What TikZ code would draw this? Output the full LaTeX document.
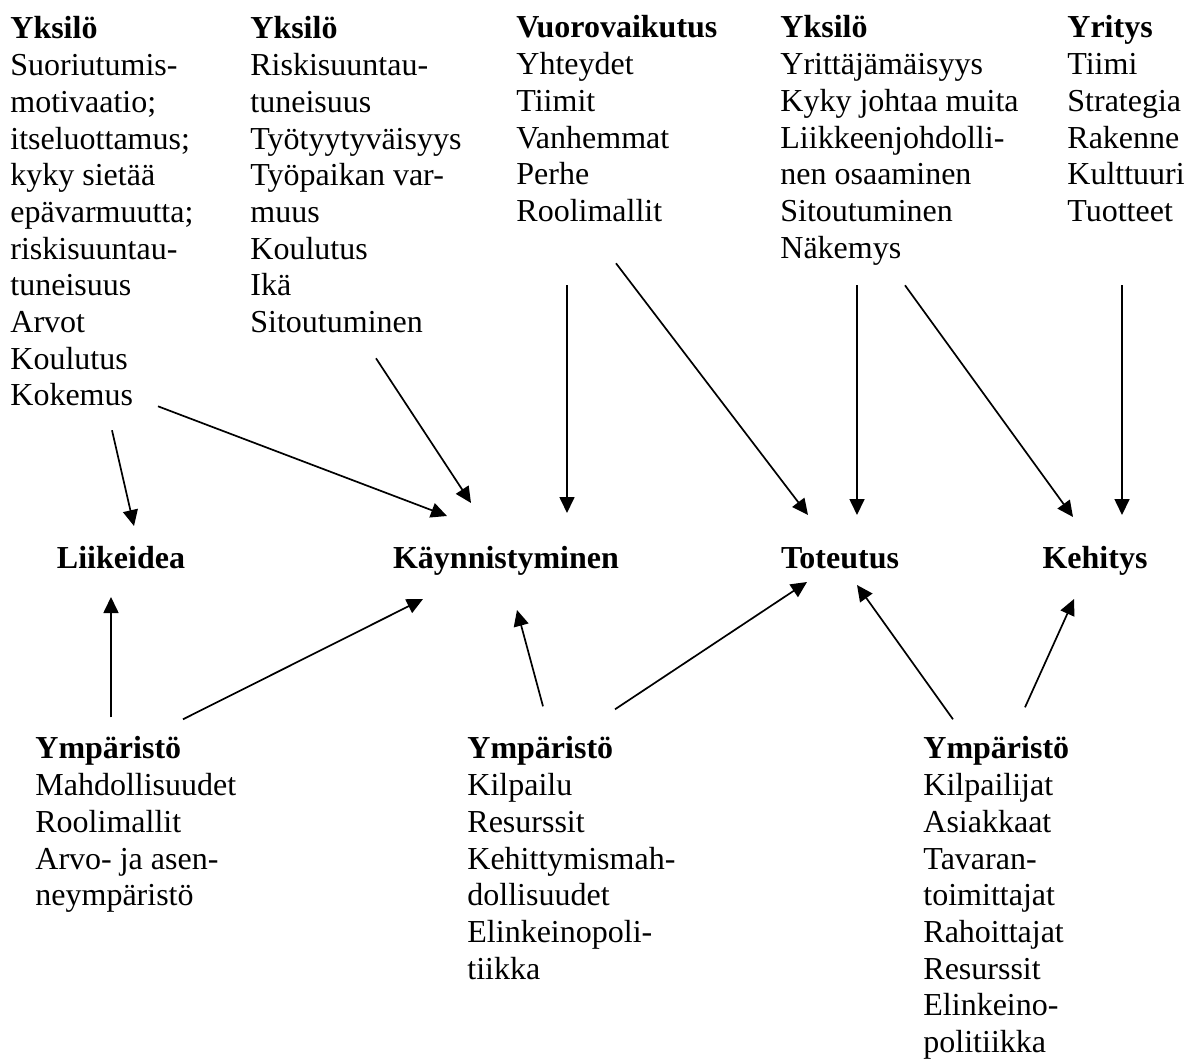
\documentclass[tikz,border=0pt]{standalone}
\usepackage{fontspec}
\setmainfont{Liberation Serif}
\usetikzlibrary{arrows.meta, positioning}

\begin{document}
\begin{tikzpicture}[
        x=0.5pt, y=-0.5pt,
        factorBlock/.style={
            anchor=north west,
            align=left,
            inner sep=0pt,
            font=\fontsize{16pt}{18.35pt}\selectfont
        },
        stageNode/.style={
            anchor=base,
            inner sep=0pt,
            font=\fontsize{16pt}{18.35pt}\selectfont\bfseries
        },
        influenceEdge/.style={
            -{Triangle[length=8pt, width=7.5pt]},
            line width=0.85pt
        }
    ]

        \useasboundingbox (0,0) rectangle (1187,1059);

        % Upper factor groups
        \node[factorBlock] (yksA) at (10,16.3) {
            \textbf{Yksilö}\\
            Suoriutumis-\\
            motivaatio;\\
            itseluottamus;\\
            kyky sietää\\
            epävarmuutta;\\
            riskisuuntau-\\
            tuneisuus\\
            Arvot\\
            Koulutus\\
            Kokemus
        };
        \node[factorBlock] (yksB) at (250,16.3) {
            \textbf{Yksilö}\\
            Riskisuuntau-\\
            tuneisuus\\
            Työtyytyväisyys\\
            Työpaikan var-\\
            muus\\
            Koulutus\\
            Ikä\\
            Sitoutuminen
        };
        \node[factorBlock] (vuoro) at (516,15.3) {
            \textbf{Vuorovaikutus}\\
            Yhteydet\\
            Tiimit\\
            Vanhemmat\\
            Perhe\\
            Roolimallit
        };
        \node[factorBlock] (yksC) at (780,15.3) {
            \textbf{Yksilö}\\
            Yrittäjämäisyys\\
            Kyky johtaa muita\\
            Liikkeenjohdolli-\\
            nen osaaminen\\
            Sitoutuminen\\
            Näkemys
        };
        \node[factorBlock] (yritys) at (1067,15.3) {
            \textbf{Yritys}\\
            Tiimi\\
            Strategia\\
            Rakenne\\
            Kulttuuri\\
            Tuotteet
        };

        % Stages
        \node[stageNode] (liike) at (121,568) {Liikeidea};
        \node[stageNode] (kaynn) at (506,568) {Käynnistyminen};
        \node[stageNode] (toteu) at (840,568) {Toteutus};
        \node[stageNode] (kehit) at (1095,568) {Kehitys};

        % Lower factor groups
        \node[factorBlock] (ympA) at (35,736.3) {
            \textbf{Ympäristö}\\
            Mahdollisuudet\\
            Roolimallit\\
            Arvo- ja asen-\\
            neympäristö
        };
        \node[factorBlock] (ympB) at (467,736.3) {
            \textbf{Ympäristö}\\
            Kilpailu\\
            Resurssit\\
            Kehittymismah-\\
            dollisuudet\\
            Elinkeinopoli-\\
            tiikka
        };
        \node[factorBlock] (ympC) at (923,736.3) {
            \textbf{Ympäristö}\\
            Kilpailijat\\
            Asiakkaat\\
            Tavaran-\\
            toimittajat\\
            Rahoittajat\\
            Resurssit\\
            Elinkeino-\\
            politiikka
        };

        % Influences from above
        \draw[influenceEdge] ([shift={(102,414)}]yksA.north west) -- ([shift={(13,-42)}]liike.base);
        \draw[influenceEdge] ([shift={(148,390)}]yksA.north west) -- ([shift={(-59,-52)}]kaynn.base);
        \draw[influenceEdge] ([shift={(126,342)}]yksB.north west) -- ([shift={(-35,-65)}]kaynn.base);
        \draw[influenceEdge] ([shift={(51,270)}]vuoro.north west) -- ([shift={(61,-55)}]kaynn.base);
        \draw[influenceEdge] ([shift={(100,248)}]vuoro.north west) -- ([shift={(-32,-53)}]toteu.base);
        \draw[influenceEdge] ([shift={(77,270)}]yksC.north west) -- ([shift={(17,-53)}]toteu.base);
        \draw[influenceEdge] ([shift={(125,270)}]yksC.north west) -- ([shift={(-22,-51)}]kehit.base);
        \draw[influenceEdge] ([shift={(55,270)}]yritys.north west) -- ([shift={(27,-53)}]kehit.base);

        % Influences from below
        \draw[influenceEdge] ([shift={(76,-19)}]ympA.north west) -- ([shift={(-10,29)}]liike.base);
        \draw[influenceEdge] ([shift={(148,-17)}]ympA.north west) -- ([shift={(-83,31)}]kaynn.base);
        \draw[influenceEdge] ([shift={(76,-30)}]ympB.north west) -- ([shift={(11,42)}]kaynn.base);
        \draw[influenceEdge] ([shift={(148,-27)}]ympB.north west) -- ([shift={(-33,14)}]toteu.base);
        \draw[influenceEdge] ([shift={(30,-17)}]ympC.north west) -- ([shift={(17,17)}]toteu.base);
        \draw[influenceEdge] ([shift={(102,-29)}]ympC.north west) -- ([shift={(-21,31)}]kehit.base);

    \end{tikzpicture}
\end{document}
